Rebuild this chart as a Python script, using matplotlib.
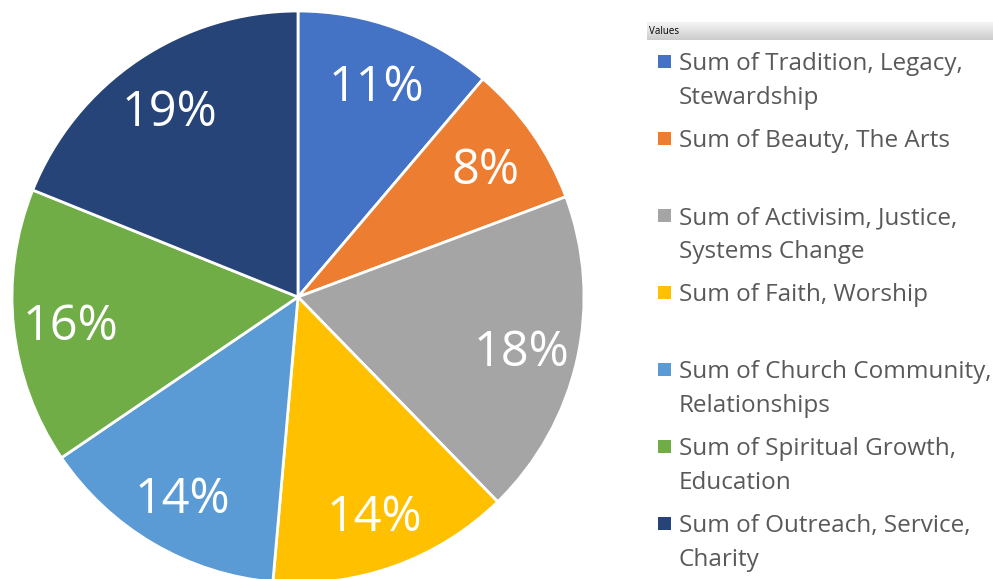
import matplotlib
matplotlib.use("Agg")
import matplotlib.pyplot as plt
import numpy as np
from matplotlib.patches import Rectangle

categories = [
    "Sum of Tradition, Legacy,\nStewardship",
    "Sum of Beauty, The Arts",
    "Sum of Activisim, Justice,\nSystems Change",
    "Sum of Faith, Worship",
    "Sum of Church Community,\nRelationships",
    "Sum of Spiritual Growth,\nEducation",
    "Sum of Outreach, Service,\nCharity",
]
values = [11.2, 8.1, 18.4, 13.7, 14.1, 15.6, 18.9]
colors = ["#4472C4", "#ED7D31", "#A5A5A5", "#FFC000", "#5B9BD5", "#70AD47", "#264478"]
legend_title = "Values"

W, H = 993, 579
plt.rcParams['font.family'] = ['Open Sans', 'DejaVu Sans']
fig = plt.figure(figsize=(W / 100, H / 100), dpi=100)

cx, cy, r = 298, 297, 286
ax = fig.add_axes([(cx - r) / W, (H - cy - r) / H, 2 * r / W, 2 * r / H])
wedges, texts, autotexts = ax.pie(
    values, colors=colors, startangle=90, counterclock=False, radius=1,
    autopct=lambda p: f"{p:.0f}%", pctdistance=0.80,
    wedgeprops=dict(edgecolor="white", linewidth=2),
    textprops=dict(color="white", fontsize=35),
)
for t in autotexts:
    t.set_va("center_baseline")
ax.set_xlim(-1, 1)
ax.set_ylim(-1, 1)
ax.set_aspect("equal")
ax.axis("off")

# legend header bar
hx0, hy0, hx1, hy1 = 647, 22, 993, 40
hax = fig.add_axes([hx0 / W, (H - hy1) / H, (hx1 - hx0) / W, (hy1 - hy0) / H])
grad = np.linspace(0.96, 0.80, 50).reshape(-1, 1)
hax.imshow(np.dstack([grad, grad, grad]), aspect="auto", extent=[0, 1, 0, 1])
hax.axis("off")
fig.text(649 / W, 1 - 31 / H, legend_title, fontsize=7, color="black", va="center", ha="left")

base0, step, line_step = 70, 77, 34
for i, (lab, col) in enumerate(zip(categories, colors)):
    b = base0 + i * step
    fig.patches.append(Rectangle((658 / W, 1 - (b - 2) / H), 13 / W, 13 / H,
                                 transform=fig.transFigure, facecolor=col, edgecolor="none"))
    for j, line in enumerate(lab.split("\n")):
        fig.text(679 / W, 1 - (b + j * line_step) / H, line, fontsize=17.5,
                 color="#595959", va="baseline", ha="left")

fig.savefig("out.png", dpi=100)
